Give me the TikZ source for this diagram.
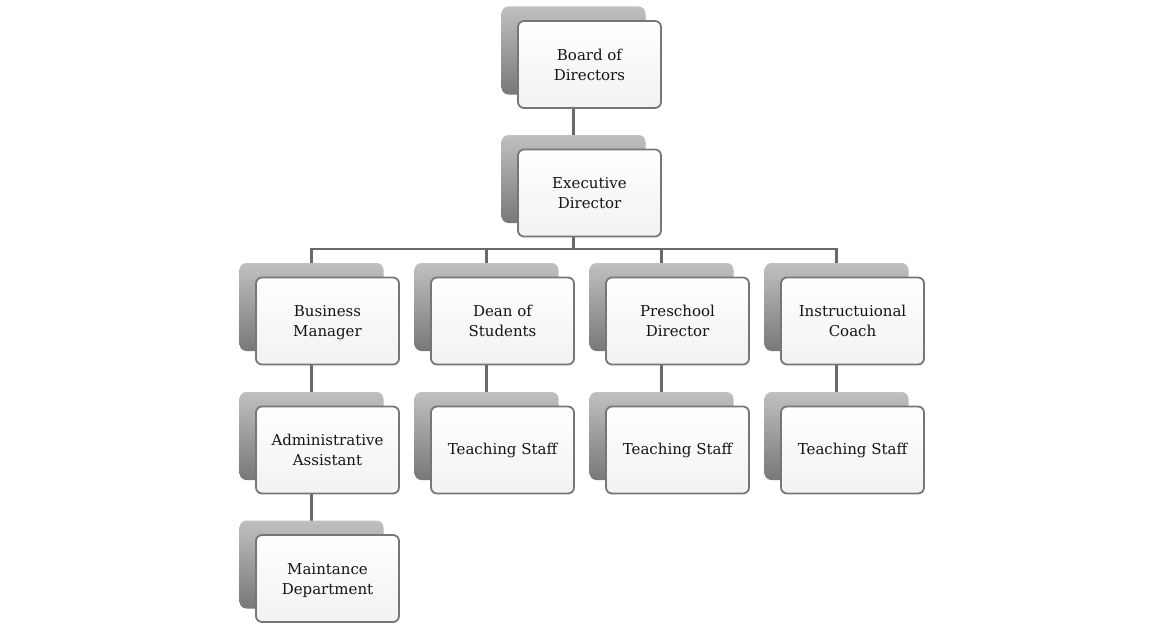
\documentclass[tikz,border=0pt]{standalone}
\usepackage{fontspec}
\setmainfont{DejaVu Serif}
\definecolor{shTop}{RGB}{192,192,192}
\definecolor{shBot}{RGB}{120,120,120}
\definecolor{frameC}{RGB}{118,118,118}
\definecolor{lineC}{RGB}{105,105,105}
\definecolor{fillBot}{RGB}{242,242,242}
\tikzset{
  backbox/.style={rectangle, rounded corners=7pt, minimum width=144pt, minimum height=88pt,
    draw=none, top color=shTop, bottom color=shBot, inner sep=0pt},
  frontbox/.style={rectangle, rounded corners=6pt, minimum width=143pt, minimum height=87pt,
    draw=frameC, line width=1.8pt, top color=white, bottom color=fillBot, inner sep=0pt,
    align=center, font=\fontsize{15}{20}\selectfont, text=black!92},
  conn/.style={draw=lineC, line width=2.3pt},
}
\begin{document}
\begin{tikzpicture}[x=1pt,y=-1pt]
\useasboundingbox (0,0) rectangle (1150,626);
% front box centres
\coordinate (pBoard) at (589.5,64.5);
\coordinate (pExec) at (589.5,193);
\coordinate (pBus) at (327.5,321);
\coordinate (pDean) at (502.5,321);
\coordinate (pPre) at (677.5,321);
\coordinate (pIns) at (852.5,321);
\coordinate (pAdm) at (327.5,450);
\coordinate (pT1) at (502.5,450);
\coordinate (pT2) at (677.5,450);
\coordinate (pT3) at (852.5,450);
\coordinate (pMnt) at (327.5,578.5);

% connectors first, behind boxes
\coordinate (br) at (573.5,249);
\draw[conn] ([xshift=-16pt,yshift=14pt]pBoard) -- ([xshift=-16pt,yshift=14pt]pExec);
\draw[conn] ([xshift=-16pt,yshift=14pt]pExec) -- (br);
\draw[conn] (br) -| ([xshift=-16pt,yshift=14pt]pBus);
\draw[conn] (br) -| ([xshift=-16pt,yshift=14pt]pDean);
\draw[conn] (br) -| ([xshift=-16pt,yshift=14pt]pPre);
\draw[conn] (br) -| ([xshift=-16pt,yshift=14pt]pIns);
\draw[conn] ([xshift=-16pt,yshift=14pt]pBus) -- ([xshift=-16pt,yshift=14pt]pAdm);
\draw[conn] ([xshift=-16pt,yshift=14pt]pAdm) -- ([xshift=-16pt,yshift=14pt]pMnt);
\draw[conn] ([xshift=-16pt,yshift=14pt]pDean) -- ([xshift=-16pt,yshift=14pt]pT1);
\draw[conn] ([xshift=-16pt,yshift=14pt]pPre) -- ([xshift=-16pt,yshift=14pt]pT2);
\draw[conn] ([xshift=-16pt,yshift=14pt]pIns) -- ([xshift=-16pt,yshift=14pt]pT3);

% back (shadow) boxes
\foreach \p in {pBoard,pExec,pBus,pDean,pPre,pIns,pAdm,pT1,pT2,pT3,pMnt}
  \node[backbox] (b\p) at ([xshift=-16pt,yshift=14pt]\p) {};

% front boxes
\node[frontbox] (board) at (pBoard) {Board of\\Directors};
\node[frontbox] (exec) at (pExec) {Executive\\Director};
\node[frontbox] (bus) at (pBus) {Business\\\smash{Manager}};
\node[frontbox] (dean) at (pDean) {Dean of\\Students};
\node[frontbox] (pre) at (pPre) {Preschool\\Director};
\node[frontbox] (ins) at (pIns) {Instructuional\\Coach};
\node[frontbox] (adm) at (pAdm) {Administrative\\Assistant};
\node[frontbox] (t1) at (pT1) {Teaching Staff};
\node[frontbox] (t2) at (pT2) {Teaching Staff};
\node[frontbox] (t3) at (pT3) {Teaching Staff};
\node[frontbox] (mnt) at (pMnt) {Maintance\\\smash{Department}};
\end{tikzpicture}
\end{document}
